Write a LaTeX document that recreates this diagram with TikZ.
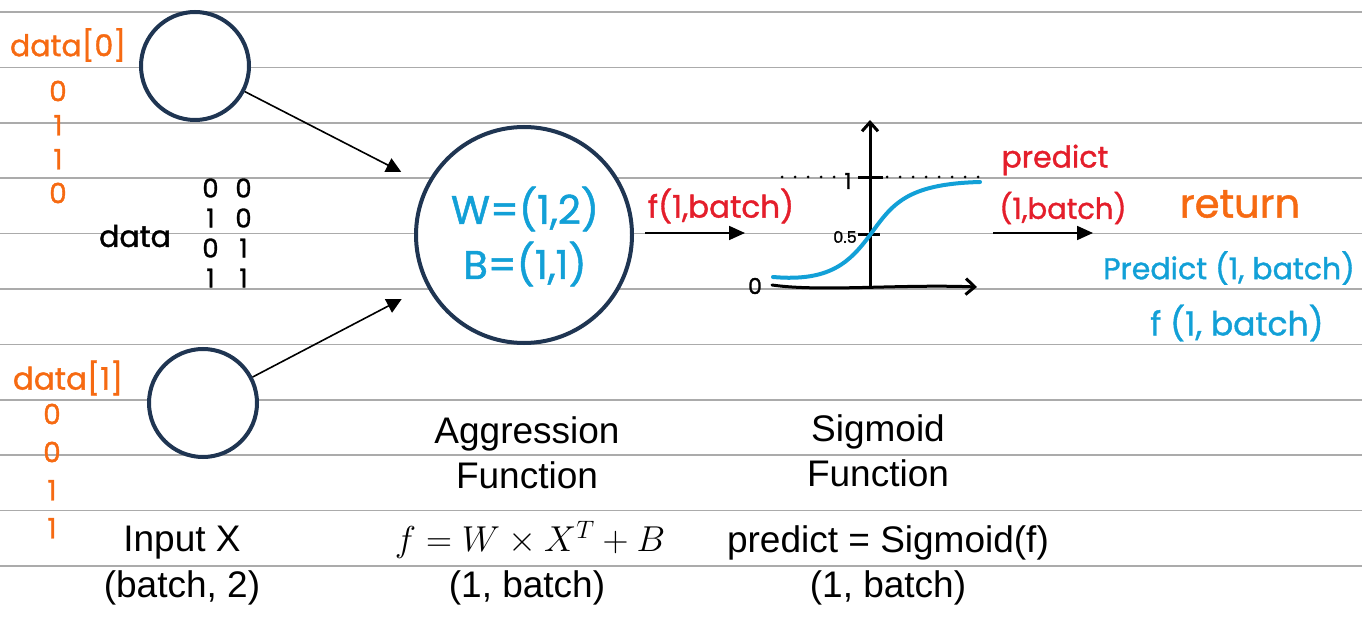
\RequirePackage{fix-cm}
\documentclass[tikz,border=0pt]{standalone}
\usepackage{fontspec}
\setmainfont{Liberation Sans}
\newfontfamily\hand[FakeBold=1.2]{Poppins}
\usetikzlibrary{arrows.meta}
\definecolor{navy}{HTML}{1F3552}
\definecolor{hblue}{HTML}{12A0D7}
\definecolor{hred}{HTML}{E41E2B}
\definecolor{horange}{HTML}{F66A12}
\definecolor{rulegray}{HTML}{ABABAB}
\newcommand{\cell}[1]{\makebox[33pt]{#1}}
\tikzset{
  rule/.style={rulegray, line width=1.5pt},
  neuron/.style={circle, draw=navy, line width=4pt, fill=white},
  link/.style={-{Triangle[length=15pt,width=15pt]}, line width=1.6pt, shorten >=28pt},
  flow/.style={-{Triangle[length=16pt,width=14pt]}, line width=1.8pt},
  label/.style={font=\fontsize{37}{45}\selectfont, align=center},
  hw/.style={font=\hand\fontsize{#1}{#1}\selectfont},
  axis/.style={line width=3pt, line cap=round, -{Straight Barb[length=9pt,width=16pt]}}
}
\begin{document}
\begin{tikzpicture}[x=1pt,y=-1pt]
\useasboundingbox (0,0) rectangle (1362,617);
% notebook lines
\foreach \k in {0,...,10}
  \draw[rule] (0,{12+55.4*\k}) -- (1362,{12+55.4*\k});
% neurons
\node[neuron, minimum size=108pt] (in0) at (195,66) {};
\node[neuron, minimum size=108pt] (in1) at (203,403) {};
\node[neuron, minimum size=216pt] (agg) at (524,235) {};
\draw[link] (in0) -- (agg);
\draw[link] (in1) -- (agg);
\node[hw=40, hblue] (w) at (525,209) {W=(1,2)};
\node[hw=40, hblue] (b) at (525,264) {B=(1,1)};
% input data
\node[hw=30, horange] (d0) at (68,45) {data[0]};
\node[hw=28, horange, align=center, inner sep=0pt] (d0v) at (58,142) {0\\[6pt]1\\[6pt]1\\[6pt]0};
\node[hw=31, horange] (d1) at (68,378) {data[1]};
\node[hw=28, horange, align=center, inner sep=0pt] (d1v) at (52,471) {0\\[10pt]0\\[10pt]1\\[10pt]1};
\node[hw=30] (data) at (135,236) {data};
\node[hw=26, align=center, inner sep=0pt] (mat) at (227,233) {\cell{0}\cell{0}\\[4pt]\cell{1}\cell{0}\\[4pt]\cell{0}\cell{1}\\[4pt]\cell{1}\cell{1}};
% aggression output
\coordinate (f0) at (645,233);
\coordinate (f1) at (745,233);
\draw[flow] (f0) -- (f1);
\node[hw=31, hred] (fl) at (721,206) {f(1,batch)};
% sigmoid sketch
\coordinate (o) at (870,287);
\coordinate (ytop) at (870,120);
\coordinate (xl) at (772,285);
\coordinate (xr) at (977,287);
\draw[axis] (o) -- (ytop);
\draw[axis] (xl) .. controls (820,292) and (900,284) .. (xr);
\draw[line width=3pt, line cap=round, dash pattern=on 0pt off 13pt] (782,177) -- (846,177);
\draw[line width=3pt, line cap=round, dash pattern=on 0pt off 13pt] (887,177) -- (980,177);
\draw[line width=3pt] (858,178) -- (883,178);
\draw[line width=3pt] (858,235) -- (880,235);
\node[hw=22] (one) at (848,181) {1};
\node[hw=16] (half) at (845,237) {0.5};
\node[hw=22] (zero) at (755,286) {0};
\draw[hblue, line width=4pt, line cap=round] (773,277) .. controls (830,282) and (850,262) .. (870,235) .. controls (892,205) and (905,184) .. (980,182);
% sigmoid output
\coordinate (p0) at (993,233);
\coordinate (p1) at (1093,233);
\draw[flow] (p0) -- (p1);
\node[hw=30, hred] (pl) at (1055,160) {predict};
\node[hw=29, hred] (pb) at (1063,208) {(1,batch)};
% return
\node[hw=40, horange] (ret) at (1240,204) {return};
\node[hw=30, hblue] (rp) at (1229,268) {Predict (1, batch)};
\node[hw=33, hblue] (rf) at (1237,323) {f (1, batch)};
% captions
\node[label] (inx) at (182,543) {Input X};
\node[label] (inxs) at (182,588) {(batch, 2)};
\node[label] (aggl) at (527,453) {Aggression\\Function};
\node[label, font=\fontsize{36}{44}\selectfont] (aggf) at (530,540) {$f=W\times X^T+B$};
\node[label] (aggs) at (527,588) {(1, batch)};
\node[label] (sigl) at (878,451) {Sigmoid\\Function};
\node[label] (sigf) at (888,543) {predict = Sigmoid(f)};
\node[label] (sigs) at (888,588) {(1, batch)};
\end{tikzpicture}
\end{document}
